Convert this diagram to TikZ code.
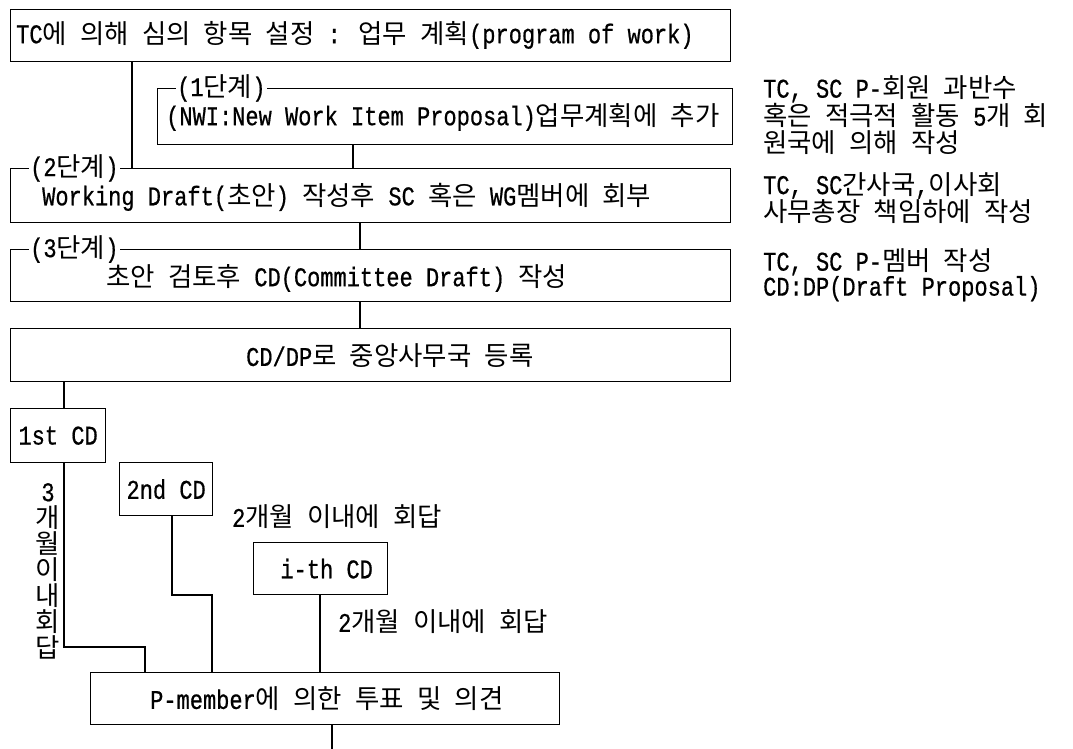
\documentclass[tikz,border=0pt]{standalone}
\usepackage{fontspec}
\setmainfont{Liberation Mono}[FakeStretch=0.815,FakeBold=0.6]
\newfontfamily\kr{Noto Sans CJK KR}[Scale=0.98]
\newcommand\hg[1]{{\kr #1}}
\begin{document}
\begin{tikzpicture}[x=1pt,y=-1pt,
  box/.style={draw, line width=1.3pt, inner sep=0pt, anchor=north west},
  conn/.style={line width=1.1pt},
  txt/.style={inner sep=0pt, font=\fontsize{27}{26}\selectfont},
  lbl/.style={fill=white, inner xsep=1pt, inner ysep=0pt, font=\fontsize{27}{26}\selectfont},
  note/.style={inner sep=0pt, align=left, anchor=west, font=\fontsize{27}{25}\selectfont}]
\useasboundingbox (0,0) rectangle (1073,749);
% boxes
\node[box, minimum width=720pt, minimum height=52pt] (T) at (10,9) {};
\node[box, minimum width=575pt, minimum height=56pt] (B1) at (157,88) {};
\node[box, minimum width=720pt, minimum height=54pt] (B2) at (10,168) {};
\node[box, minimum width=720pt, minimum height=52pt] (B3) at (10,249) {};
\node[box, minimum width=720pt, minimum height=53pt] (B4) at (10,328) {};
\node[box, minimum width=95pt, minimum height=54pt] (C1) at (10,408) {};
\node[box, minimum width=93pt, minimum height=53pt] (C2) at (119,462) {};
\node[box, minimum width=134pt, minimum height=52pt] (Ci) at (253,542) {};
\node[box, minimum width=469pt, minimum height=52pt] (P) at (90,672) {};
\coordinate (end) at (332,749);
% connectors
\draw[conn] ([xshift=122pt]T.south west) -- ([xshift=122pt]B2.north west);
\draw[conn] ([xshift=196pt]B1.south west) -- ([xshift=343pt]B2.north west);
\draw[conn] ([xshift=350pt]B2.south west) -- ([xshift=350pt]B3.north west);
\draw[conn] ([xshift=350pt]B3.south west) -- ([xshift=350pt]B4.north west);
\draw[conn] ([xshift=54pt]B4.south west) -- ([xshift=54pt]C1.north west);
\draw[conn] ([xshift=54pt]C1.south west) |- ([xshift=55pt,yshift=25pt]P.north west) -- ([xshift=55pt]P.north west);
\draw[conn] ([xshift=53pt]C2.south west) |- ([xshift=122pt,yshift=77pt]P.north west) -- ([xshift=122pt]P.north west);
\draw[conn] ([xshift=67pt]Ci.south west) -- ([xshift=230pt]P.north west);
\draw[conn] ([xshift=242pt]P.south west) -- (end);
% labels on top borders
\node[lbl, anchor=west] (L1) at ([xshift=19pt]B1.north west) {(1\hg{단계})};
\node[lbl, anchor=west] (L2) at ([xshift=19pt]B2.north west) {(2\hg{단계})};
\node[lbl, anchor=west] (L3) at ([xshift=19pt]B3.north west) {(3\hg{단계})};
% box texts
\node[txt, anchor=west] (Tt) at (16,35) {TC\hg{에} \hg{의해} \hg{심의} \hg{항목} \hg{설정} : \hg{업무} \hg{계획}(program of work)};
\node[txt, anchor=west] (B1t) at (166,117) {(NWI:New Work Item Proposal)\hg{업무계획에} \hg{추가}};
\node[txt, anchor=west] (B2t) at (42,197) {Working Draft(\hg{초안}) \hg{작성후} SC \hg{혹은} WG\hg{멤버에} \hg{회부}};
\node[txt, anchor=west] (B3t) at (106,278) {\hg{초안} \hg{검토후} CD(Committee Draft) \hg{작성}};
\node[txt, anchor=west] (B4t) at (246,356) {CD/DP\hg{로} \hg{중앙사무국} \hg{등록}};
\node[txt] (C1t) at (C1.center) {1st CD};
\node[txt] (C2t) at (C2.center) {2nd CD};
\node[txt] (Cit) at ([xshift=6pt]Ci.center) {i-th CD};
\node[txt, anchor=west] (Pt) at (150,699) {P-member\hg{에} \hg{의한} \hg{투표} \hg{및} \hg{의견}};
% side labels
\node[txt, align=center] (V) at (48,571) {3\\\hg{개}\\\hg{월}\\\hg{이}\\\hg{내}\\\hg{회}\\\hg{답}};
\node[txt, anchor=west] (R1) at (232,517) {2\hg{개월} \hg{이내에} \hg{회답}};
\node[txt, anchor=west] (R2) at (338,622) {2\hg{개월} \hg{이내에} \hg{회답}};
% notes
\node[note, font=\fontsize{27}{26.5}\selectfont] (N1) at (763,115) {TC, SC P-\hg{회원} \hg{과반수}\\\hg{혹은} \hg{적극적} \hg{활동} 5\hg{개} \hg{회}\\\hg{원국에} \hg{의해} \hg{작성}};
\node[note] (N2) at (763,198) {TC, SC\hg{간사국},\hg{이사회}\\\hg{사무총장} \hg{책임하에} \hg{작성}};
\node[note] (N3) at (763,275) {TC, SC P-\hg{멤버} \hg{작성}\\CD:DP(Draft Proposal)};
\end{tikzpicture}
\end{document}
